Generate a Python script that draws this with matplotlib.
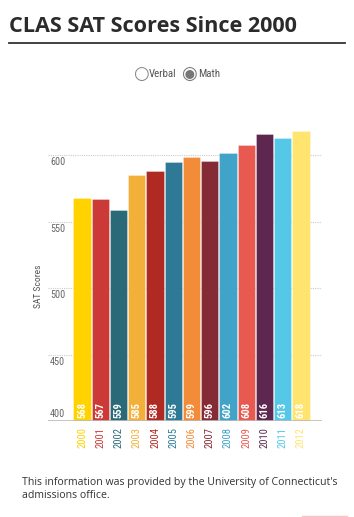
import matplotlib
matplotlib.use("Agg")
import matplotlib.pyplot as plt
from matplotlib import font_manager as fm
from matplotlib.transforms import blended_transform_factory

years = ["2000", "2001", "2002", "2003", "2004", "2005", "2006",
         "2007", "2008", "2009", "2010", "2011", "2012"]
math_scores = [568, 567, 559, 585, 588, 595, 599, 596, 602, 608, 616, 613, 618]
bar_colors = ["#FFD200", "#CC3A38", "#2A6A78", "#F2B03B", "#B02A24", "#2E7A96",
              "#F28C38", "#852B35", "#41A3C8", "#E85A50", "#5E2750", "#55C8E8",
              "#FFE470"]
y_ticks = [400, 450, 500, 550, 600]

# pick a narrow font if the box has one
narrow = "Liberation Sans"
for name in ["Liberation Sans Narrow", "Roboto Condensed", "Open Sans Condensed"]:
    try:
        fm.findfont(name, fallback_to_default=False)
        narrow = name
        break
    except ValueError:
        pass

plt.rcParams["font.family"] = [narrow, "DejaVu Sans"]

fig = plt.figure(figsize=(3.54, 5.17), dpi=100)

# title and rule
fig.text(9 / 354, 1 - 27 / 517, "CLAS SAT Scores Since 2000", fontsize=15.6,
         fontweight="bold", color="#2b2b2b", va="center", ha="left",
         family=["Open Sans", "DejaVu Sans"])
fig.add_artist(plt.Line2D([9 / 354, 345 / 354], [1 - 43 / 517] * 2,
                          color="#333333", lw=1.3))

# fake radio legend
ly = 1 - 74 / 517
fig.text(133 / 354, ly, "\u25cb", fontsize=13, color="#888888", va="center",
         ha="left", family="DejaVu Sans")
fig.text(149 / 354, ly, "Verbal", fontsize=7.8, color="#555555", va="center", ha="left")
fig.text(181 / 354, ly, "\u25c9", fontsize=13, color="#777777", va="center",
         ha="left", family="DejaVu Sans")
fig.text(198 / 354, ly, "Math", fontsize=7.8, color="#555555", va="center", ha="left")

ax = fig.add_axes([48 / 354, 1 - 421 / 517, 274 / 354, 299 / 517])
x = list(range(len(years)))
ax.bar(x, [v - 400 for v in math_scores], bottom=400, width=0.95,
       color=bar_colors, edgecolor=(1, 1, 1, 0.35), linewidth=0.6, zorder=3)
ax.set_xlim(-1.87, 13.16)
ax.set_ylim(400, 625)

for s in ax.spines.values():
    s.set_visible(False)
ax.axhline(400, color="#bbbbbb", lw=1.2, zorder=4)
for t in y_ticks[1:]:
    ax.axhline(t, color="#cccccc", lw=0.8, ls=(0, (1, 1)), zorder=1)

ax.set_xticks([])
ax.set_yticks([])

trans = blended_transform_factory(ax.transAxes, ax.transData)
for t in y_ticks:
    ax.text(0.008, t + (1.5 if t == 400 else -1.5), str(t), transform=trans,
            fontsize=7.3, color="#666666", ha="left",
            va="bottom" if t == 400 else "top")

ax.text(-0.02, 0.45, "SAT Scores", transform=ax.transAxes, rotation=90,
        fontsize=6.8, color="#555555", ha="right", va="center")

for i, (v, c, yr) in enumerate(zip(math_scores, bar_colors, years)):
    ax.text(i, 402, str(v), rotation=90, color="white", fontsize=7.6,
            fontweight="bold", ha="center", va="bottom", zorder=5)
    ax.text(i, 395.5, yr, rotation=90, color=c, fontsize=7.6, ha="center",
            va="top", clip_on=False)

# footnote
fig.text(22 / 354, 1 - 482 / 517,
         "This information was provided by the University of Connecticut's",
         fontsize=7.55, color="#333333", va="center", ha="left",
         family=["Open Sans", "DejaVu Sans"])
fig.text(22 / 354, 1 - 495 / 517, "admissions office.", fontsize=7.55,
         color="#333333", va="center", ha="left", family=["Open Sans", "DejaVu Sans"])
fig.add_artist(plt.Line2D([302 / 354, 347 / 354], [1 - 516 / 517] * 2,
                          color="#f6c6c6", lw=1))

fig.savefig("out.png", dpi=100)
